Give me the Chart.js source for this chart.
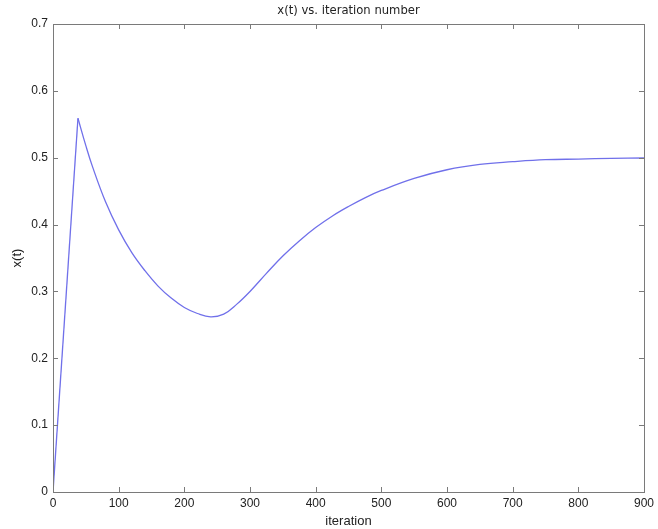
<!DOCTYPE html>
<html>
<head>
<meta charset="utf-8">
<script src="https://cdn.jsdelivr.net/npm/chart.js@4/dist/chart.umd.min.js"></script>
<style>
  html, body { margin: 0; padding: 0; background: #ffffff; }
  #wrap { width: 658px; height: 529px; position: relative; }
</style>
</head>
<body>
<div id="wrap"><canvas id="c" width="658" height="529"></canvas></div>
<script>
const chartTitle = "x(t) vs. iteration number";
const xAxisTitle = "iteration";
const yAxisTitle = "x(t)";
// rising part (straight line up to the peak)
const riseIterations = [0, 38];
const riseValues = [0, 0.559];
// decaying / recovering part after the peak
const decayIterations = [38, 50, 60, 80, 100, 120, 140, 160, 180, 200, 220, 240, 260, 280, 300, 325, 350, 375, 400, 425, 450, 475, 500, 550, 600, 650, 700, 750, 800, 850, 900];
const decayValues = [0.559, 0.518, 0.487, 0.434, 0.392, 0.358, 0.331, 0.308, 0.290, 0.276, 0.267, 0.262, 0.266, 0.281, 0.300, 0.327, 0.353, 0.3755, 0.3955, 0.4125, 0.427, 0.440, 0.451, 0.469, 0.482, 0.490, 0.494, 0.497, 0.498, 0.499, 0.4996];
const xTicks = [0, 100, 200, 300, 400, 500, 600, 700, 800, 900];
const yTicks = [0, 0.1, 0.2, 0.3, 0.4, 0.5, 0.6, 0.7];

const risePoints = riseIterations.map((v, i) => ({ x: v, y: riseValues[i] }));
const decayPoints = decayIterations.map((v, i) => ({ x: v, y: decayValues[i] }));

const lineColor = '#7070ea';

const boxPlugin = {
  id: 'matlabBox',
  afterDraw(chart) {
    const ctx = chart.ctx;
    const a = chart.chartArea;
    const xs = chart.scales.x, ys = chart.scales.y;
    ctx.save();
    ctx.strokeStyle = '#7a7a7a';
    ctx.lineWidth = 1;
    ctx.strokeRect(Math.round(a.left) + 0.5, Math.round(a.top) + 0.5, Math.round(a.right - a.left), Math.round(a.bottom - a.top));
    const L = 5;
    ctx.beginPath();
    xs.ticks.forEach(t => {
      const px = Math.round(xs.getPixelForValue(t.value)) + 0.5;
      ctx.moveTo(px, a.bottom); ctx.lineTo(px, a.bottom - L);
      ctx.moveTo(px, a.top); ctx.lineTo(px, a.top + L);
    });
    ys.ticks.forEach(t => {
      const py = Math.round(ys.getPixelForValue(t.value)) + 0.5;
      ctx.moveTo(a.left, py); ctx.lineTo(a.left + L, py);
      ctx.moveTo(a.right, py); ctx.lineTo(a.right - L, py);
    });
    ctx.stroke();
    ctx.fillStyle = '#222222';
    ctx.font = '11.6px "DejaVu Sans", Verdana, sans-serif';
    ctx.textAlign = 'center';
    ctx.textBaseline = 'middle';
    ctx.fillText(chartTitle, (a.left + a.right) / 2, 11);
    ctx.restore();
  }
};

new Chart(document.getElementById('c'), {
  type: 'line',
  data: {
    datasets: [{
      data: risePoints,
      borderColor: lineColor,
      borderWidth: 1.3,
      pointRadius: 0,
      tension: 0,
      fill: false
    }, {
      data: decayPoints,
      borderColor: lineColor,
      borderWidth: 1.3,
      pointRadius: 0,
      tension: 0.4,
      fill: false
    }]
  },
  options: {
    responsive: false,
    animation: false,
    layout: { padding: { top: 24, right: 10, left: 0, bottom: 0 } },
    plugins: { legend: { display: false }, tooltip: { enabled: false }, title: { display: false } },
    scales: {
      x: {
        type: 'linear', min: 0, max: 900,
        afterBuildTicks: s => { s.ticks = xTicks.map(v => ({ value: v })); },
        afterFit: s => { s.height = 37; },
        grid: { display: false, drawTicks: false },
        border: { display: false },
        ticks: { padding: 4, color: '#222222', font: { family: '"Liberation Sans", Arial, sans-serif', size: 12 }, maxRotation: 0 },
        title: { display: true, text: xAxisTitle, color: '#222222', padding: { top: 0, bottom: 0 }, font: { family: '"Liberation Sans", Arial, sans-serif', size: 13 } }
      },
      y: {
        type: 'linear', min: 0, max: 0.7,
        afterBuildTicks: s => { s.ticks = yTicks.map(v => ({ value: v })); },
        afterFit: s => { s.width = 53; },
        grid: { display: false, drawTicks: false },
        border: { display: false },
        ticks: { padding: 5, color: '#222222', font: { family: '"Liberation Sans", Arial, sans-serif', size: 12 } },
        title: { display: true, text: yAxisTitle, color: '#222222', padding: { top: 10, bottom: 0 }, font: { family: '"Liberation Sans", Arial, sans-serif', size: 13 } }
      }
    }
  },
  plugins: [boxPlugin]
});
</script>
</body>
</html>
